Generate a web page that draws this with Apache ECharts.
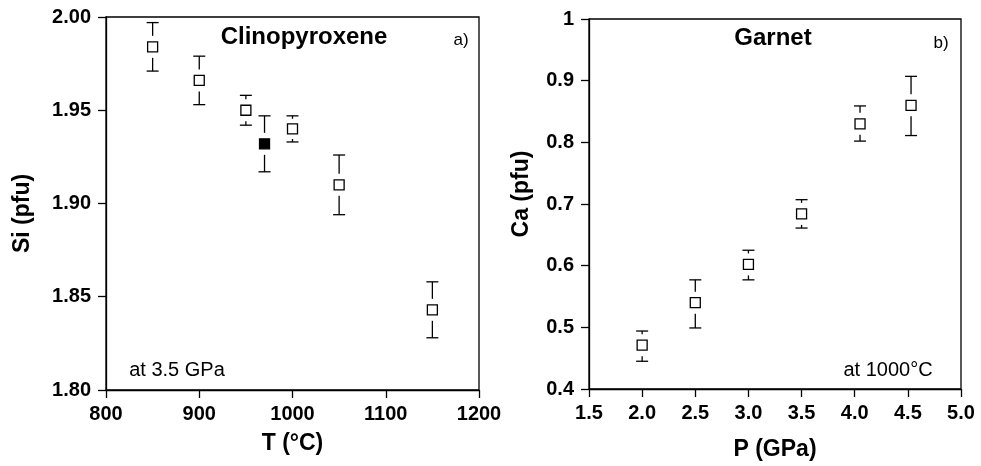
<!DOCTYPE html>
<html>
<head>
<meta charset="utf-8">
<script src="https://cdn.jsdelivr.net/npm/echarts@6/dist/echarts.min.js"></script>
<style>
html,body{margin:0;padding:0;background:#fff;}
#chart{width:981px;height:466px;}
</style>
</head>
<body>
<div id="chart"></div>
<script>
// Panel a) Clinopyroxene, at 3.5 GPa
var cpxT      = [850, 900, 950, 970, 1000, 1050, 1150];
var cpxSi     = [1.984, 1.966, 1.950, 1.932, 1.940, 1.910, 1.843];
var cpxSiHigh = [1.997, 1.979, 1.958, 1.947, 1.947, 1.926, 1.858];
var cpxSiLow  = [1.971, 1.953, 1.942, 1.917, 1.933, 1.894, 1.828];
var cpxFilled = [false, false, false, true, false, false, false];

// Panel b) Garnet, at 1000°C
var grtP      = [2.0, 2.5, 3.0, 3.5, 4.05, 4.53];
var grtCa     = [0.471, 0.540, 0.602, 0.684, 0.830, 0.860];
var grtCaHigh = [0.494, 0.577, 0.625, 0.707, 0.859, 0.907];
var grtCaLow  = [0.445, 0.499, 0.577, 0.661, 0.802, 0.811];

var FONT = '"Liberation Sans", Arial, Helvetica, sans-serif';

function errData(xs, ys, hi, lo) {
  return xs.map(function (x, i) { return [x, ys[i], lo[i], hi[i]]; });
}
function pointData(xs, ys, filled) {
  return xs.map(function (x, i) {
    var d = { value: [x, ys[i]] };
    if (filled && filled[i]) d.itemStyle = { color: '#000', borderColor: '#000' };
    return d;
  });
}
function renderErr(params, api) {
  var c = api.coord([api.value(0), api.value(1)]);
  var lo = api.coord([api.value(0), api.value(2)]);
  var hi = api.coord([api.value(0), api.value(3)]);
  var capHalf = 6, gap = 11, minLen = 3;
  var style = { stroke: '#000', lineWidth: 1.3 };
  var x = c[0];
  var children = [];
  var upStart = (c[1] - gap < hi[1] + minLen) ? hi[1] + minLen : c[1] - gap;
  children.push({ type: 'line', shape: { x1: x - capHalf, y1: hi[1], x2: x + capHalf, y2: hi[1] }, style: style });
  children.push({ type: 'line', shape: { x1: x, y1: hi[1], x2: x, y2: upStart }, style: style });
  var lowStart = (c[1] + gap > lo[1] - minLen) ? lo[1] - minLen : c[1] + gap;
  children.push({ type: 'line', shape: { x1: x - capHalf, y1: lo[1], x2: x + capHalf, y2: lo[1] }, style: style });
  children.push({ type: 'line', shape: { x1: x, y1: lo[1], x2: x, y2: lowStart }, style: style });
  return { type: 'group', children: children };
}

function ax(extra) {
  var o = {
    axisLine: { show: true, onZero: false, lineStyle: { color: '#000', width: 1.3 } },
    axisTick: { show: true, inside: false, length: 8, lineStyle: { color: '#000', width: 1.3 } },
    splitLine: { show: false },
    axisLabel: { color: '#000', fontFamily: FONT, fontWeight: 'bold', fontSize: 20 },
    nameTextStyle: { color: '#000', fontFamily: FONT, fontWeight: 'bold', fontSize: 23 }
  };
  for (var k in extra) {
    if (extra[k] && typeof extra[k] === 'object' && o[k] && !Array.isArray(extra[k])) {
      for (var j in extra[k]) o[k][j] = extra[k][j];
    } else o[k] = extra[k];
  }
  return o;
}

var chart = echarts.init(document.getElementById('chart'), null, { renderer: 'canvas' });
chart.setOption({
  animation: false,
  backgroundColor: '#fff',
  grid: [
    { left: 106, top: 17, width: 373, height: 373, show: true, borderColor: '#000', borderWidth: 1.3, backgroundColor: 'transparent' },
    { left: 589, top: 19, width: 372, height: 374, show: true, borderColor: '#000', borderWidth: 1.3, backgroundColor: 'transparent' }
  ],
  xAxis: [
    ax({ gridIndex: 0, type: 'value', min: 800, max: 1200, interval: 100,
      name: 'T (°C)', nameLocation: 'middle', nameGap: 42,
      axisLabel: { margin: 14, formatter: function (v) { return String(Math.round(v)); } } }),
    ax({ gridIndex: 1, type: 'value', min: 1.5, max: 5.0, interval: 0.5,
      name: 'P (GPa)', nameLocation: 'middle', nameGap: 49,
      axisLabel: { margin: 14, formatter: function (v) { return (Math.round(v * 10) / 10).toFixed(1); } } })
  ],
  yAxis: [
    ax({ gridIndex: 0, type: 'value', min: 1.80, max: 2.00, interval: 0.05,
      name: 'Si (pfu)', nameLocation: 'middle', nameGap: 72,
      nameTextStyle: { padding: [0, 20, 0, 0] },
      axisLabel: { margin: 15, formatter: function (v) { return (Math.round(v * 100) / 100).toFixed(2); } } }),
    ax({ gridIndex: 1, type: 'value', min: 0.4, max: 1.0, interval: 0.1,
      name: 'Ca (pfu)', nameLocation: 'middle', nameGap: 56,
      nameTextStyle: { padding: [0, 0, 0, 20] },
      axisLabel: { margin: 15, formatter: function (v) { var r = Math.round(v * 10) / 10; return r === 1 ? '1' : r.toFixed(1); } } })
  ],
  series: [
    { type: 'custom', xAxisIndex: 0, yAxisIndex: 0, renderItem: renderErr,
      data: errData(cpxT, cpxSi, cpxSiHigh, cpxSiLow), z: 2 },
    { type: 'scatter', xAxisIndex: 0, yAxisIndex: 0, symbol: 'rect', symbolSize: 10,
      itemStyle: { color: '#fff', borderColor: '#000', borderWidth: 1.3, opacity: 1 },
      data: pointData(cpxT, cpxSi, cpxFilled), z: 3 },
    { type: 'custom', xAxisIndex: 1, yAxisIndex: 1, renderItem: renderErr,
      data: errData(grtP, grtCa, grtCaHigh, grtCaLow), z: 2 },
    { type: 'scatter', xAxisIndex: 1, yAxisIndex: 1, symbol: 'rect', symbolSize: 10,
      itemStyle: { color: '#fff', borderColor: '#000', borderWidth: 1.3, opacity: 1 },
      data: pointData(grtP, grtCa, null), z: 3 }
  ],
  graphic: [
    { type: 'text', x: 304, y: 37, style: { text: 'Clinopyroxene', fill: '#000', font: 'bold 24px ' + FONT, textAlign: 'center', textVerticalAlign: 'middle' } },
    { type: 'text', x: 461, y: 40, style: { text: 'a)', fill: '#000', font: '17px ' + FONT, textAlign: 'center', textVerticalAlign: 'middle' } },
    { type: 'text', x: 177, y: 370, style: { text: 'at 3.5 GPa', fill: '#000', font: '20px ' + FONT, textAlign: 'center', textVerticalAlign: 'middle' } },
    { type: 'text', x: 773, y: 38, style: { text: 'Garnet', fill: '#000', font: 'bold 24px ' + FONT, textAlign: 'center', textVerticalAlign: 'middle' } },
    { type: 'text', x: 941, y: 43, style: { text: 'b)', fill: '#000', font: '17px ' + FONT, textAlign: 'center', textVerticalAlign: 'middle' } },
    { type: 'text', x: 888, y: 370, style: { text: 'at 1000°C', fill: '#000', font: '20px ' + FONT, textAlign: 'center', textVerticalAlign: 'middle' } }
  ]
});
</script>
</body>
</html>
